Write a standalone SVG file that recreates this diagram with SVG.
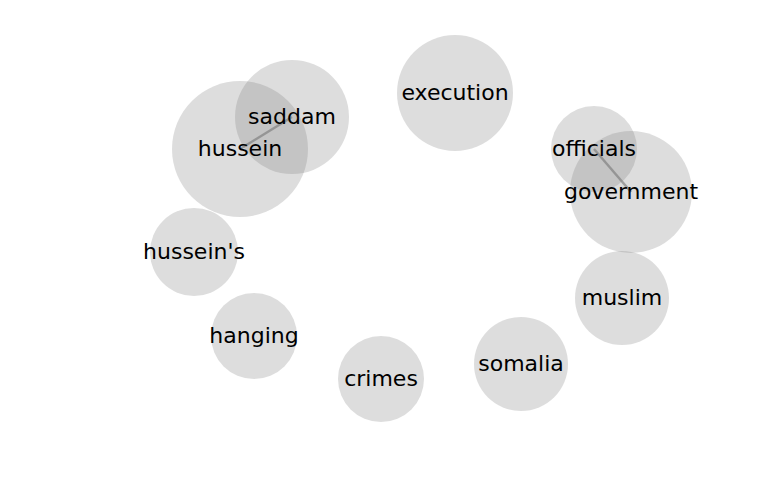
<svg xmlns="http://www.w3.org/2000/svg" width="768" height="500" viewBox="0 0 768 500">
<style>
.n circle{fill:#808080;fill-opacity:0.27}
.l text{font-family:"DejaVu Sans",sans-serif;font-size:22px;fill:#000;text-anchor:middle}
.e line{stroke:#777;stroke-opacity:0.6;stroke-width:2.5}
</style>
<rect width="768" height="500" fill="#fff"/>
<g id="nodes" class="n">
<g id="execution"><circle cx="455" cy="93" r="58"/></g>
<g id="hussein"><circle cx="240" cy="149" r="68"/></g>
<g id="saddam"><circle cx="292" cy="117" r="57"/></g>
<g id="officials"><circle cx="594" cy="149" r="43"/></g>
<g id="government"><circle cx="631" cy="192" r="61"/></g>
<g id="husseins"><circle cx="194" cy="252" r="44"/></g>
<g id="hanging"><circle cx="254" cy="336" r="43"/></g>
<g id="crimes"><circle cx="381" cy="379" r="43"/></g>
<g id="somalia"><circle cx="521" cy="364" r="47"/></g>
<g id="muslim"><circle cx="622" cy="298" r="47"/></g>
</g>
<g id="edges" class="e">
<line x1="292" y1="117" x2="240" y2="149"/>
<line x1="594" y1="149" x2="631" y2="192"/>
</g>
<g id="labels" class="l">
<g id="execution-label"><text x="455" y="100">execution</text></g>
<g id="saddam-label"><text x="292" y="124">saddam</text></g>
<g id="hussein-label"><text x="240" y="156">hussein</text></g>
<g id="officials-label"><text x="594" y="156">officials</text></g>
<g id="government-label"><text x="631" y="199">government</text></g>
<g id="husseins-label"><text x="194" y="259">hussein's</text></g>
<g id="hanging-label"><text x="254" y="343">hanging</text></g>
<g id="crimes-label"><text x="381" y="386">crimes</text></g>
<g id="somalia-label"><text x="521" y="371">somalia</text></g>
<g id="muslim-label"><text x="622" y="305">muslim</text></g>
</g>
</svg>
